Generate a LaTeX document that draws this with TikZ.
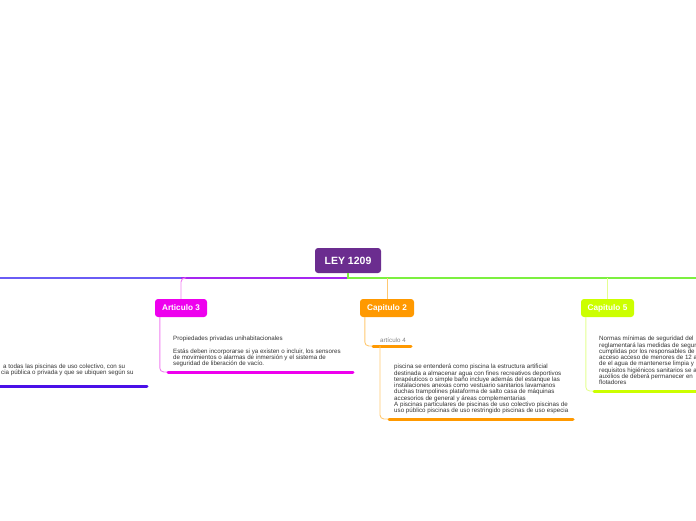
\documentclass[tikz,border=0pt]{standalone}
\usepackage{fontspec}
\setmainfont{Liberation Sans}
\usetikzlibrary{positioning}

\definecolor{leypurple}{HTML}{6B2D8F}
\definecolor{art1blue}{HTML}{6A5CF5}
\definecolor{art1dark}{HTML}{4A10E8}
\definecolor{art3purple}{HTML}{A526F0}
\definecolor{art3mag}{HTML}{EE00EE}
\definecolor{art3pink}{HTML}{F080F0}
\definecolor{capgreen}{HTML}{7CF040}
\definecolor{cap2orange}{HTML}{FF9900}
\definecolor{cap2light}{HTML}{FFC870}
\definecolor{cap5lime}{HTML}{CCFF00}
\definecolor{cap5light}{HTML}{E4FF90}
\definecolor{notegray}{HTML}{333333}

\begin{document}
\begin{tikzpicture}[x=1pt,y=-1pt]
        \tikzstyle{every node}=[inner sep=0pt, font=\fontsize{6.2}{6.3}\selectfont]
        \tikzstyle{topic}=[rounded corners=3pt, minimum height=18pt, text=white,
                           font=\bfseries\fontsize{8.2}{9}\selectfont]
        \tikzstyle{note}=[anchor=north west, align=left, text=notegray]
        \tikzstyle{bar}=[line width=3pt, line cap=round]
        \tikzstyle{mainline}=[line width=2pt]
        \tikzstyle{link}=[line width=0.9pt, rounded corners=4pt]

        \useasboundingbox (0,0) rectangle (696,520);

        % root and main branches
        \node (ley) [topic, fill=leypurple, minimum width=66pt, minimum height=25pt,
                     font=\bfseries\fontsize{10.5}{11}\selectfont] at (348,260.5) {LEY 1209};
        \coordinate (hub)   at (348,278);
        \coordinate (farw)  at (0,278);
        \coordinate (fare)  at (696,278);

        \node (art3) [topic, fill=art3mag, minimum width=52pt] at (181,308) {Articulo 3};
        \node (cap2) [topic, fill=cap2orange, minimum width=54pt] at (387,308) {Capitulo 2};
        \node (cap5) [topic, fill=cap5lime, minimum width=53pt] at (607.5,308) {Capitulo 5};

        \draw[mainline, art1blue]   (hub) -- (farw);
        \draw[mainline, art3purple] (hub) -- (art3 |- hub);
        \draw[mainline, capgreen]   (ley.south) -- (hub) -- (fare);
        \draw[link, art3pink]  ([xshift=5pt]art3 |- hub) -- (art3 |- hub) -- (art3.north);
        \draw[link, cap2light] (cap2 |- hub) -- (cap2.north);
        \draw[link, cap5light] (cap5 |- hub) -- (cap5.north);

        % left text (Articulo 1)
        \node (art1txt) [note] at (1,363.5) {\hspace*{2pt}a todas las piscinas de uso colectivo, con su\\
                                              cia pública o privada y que se ubiquen según su};
        \coordinate (art1u) at (0,386);
        \draw[bar, art1dark] (art1u) -- ++(147,0);

        % Articulo 3
        \node (art3txt) [note] at (173,336) {Propiedades privadas unihabitacionales\\[6.3pt]
                                               Estás deben incorporarse si ya existen o incluir, los sensores\\
                                               de movimientos o alarmas de inmersión y el sistema de\\
                                               seguridad de liberación de vacío.};
        \coordinate (art3u) at (168,372);
        \draw[link, art3pink] ([xshift=5pt]art3.south west) |- (art3u);
        \draw[bar, art3mag] (art3u) -- ++(185,0);

        % Capitulo 2
        \node (art4) [note, text=gray] at (380,337.5) {artículo 4};
        \coordinate (art4u) at (373,346);
        \draw[link, cap2light] ([xshift=5pt]cap2.south west) |- (art4u);
        \draw[bar, cap2orange] (art4u) -- ++(38,0);

        \node (cap2txt) [note] at (394,364) {piscina se entenderá como piscina la estructura artificial\\
                                               destinada a almacenar agua con fines recreativos deportivos\\
                                               terapéuticos o simple baño incluye además del estanque las\\
                                               instalaciones anexas como vestuario sanitarios lavamanos\\
                                               duchas trampolines plataforma de salto casa de máquinas\\
                                               accesorios de general y áreas complementarias\\
                                               A piscinas particulares de piscinas de uso colectivo piscinas de\\
                                               uso público piscinas de uso restringido piscinas de uso especia};
        \coordinate (cap2u) at (389,419);
        \draw[link, cap2light] ([xshift=7pt]art4u) |- (cap2u);
        \draw[bar, cap2orange] (cap2u) -- ++(184,0);

        % Capitulo 5
        \node (cap5txt) [note] at (599,336) {Normas mínimas de seguridad del\\
                                               reglamentará las medidas de segur\\
                                               cumplidas por los responsables de\\
                                               acceso acceso de menores de 12 a\\
                                               de el agua de mantenerse limpia y\\
                                               requisitos higiénicos sanitarios se a\\
                                               auxilios de deberá permanecer en\\
                                               flotadores};
        \coordinate (cap5u) at (594,391);
        \draw[link, cap5light] ([xshift=5pt]cap5.south west) |- (cap5u);
        \draw[bar, cap5lime] (cap5u) -- ++(110,0);
    \end{tikzpicture}
\end{document}
